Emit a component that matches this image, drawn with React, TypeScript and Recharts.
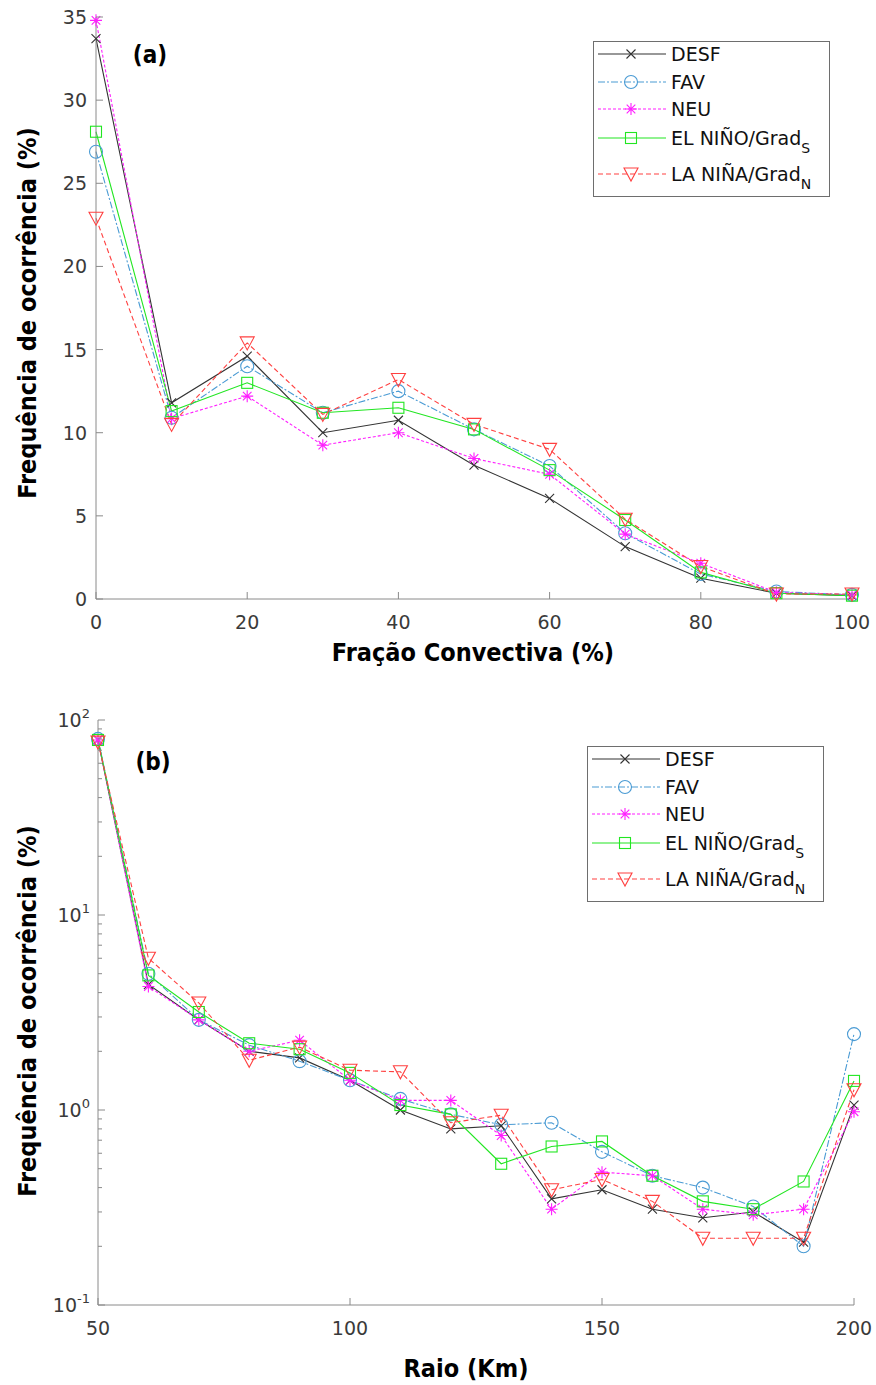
import React from "react";
import { LineChart, Line, XAxis, YAxis, Legend } from "recharts";

// (a) Fração convectiva
const fracao = [0, 10, 20, 30, 40, 50, 60, 70, 80, 90, 100];
const fracDESF = [33.7, 11.8, 14.6, 10.0, 10.75, 8.05, 6.05, 3.15, 1.25, 0.35, 0.2];
const fracFAV = [26.9, 10.9, 14.0, 11.2, 12.5, 10.2, 8.0, 3.95, 1.5, 0.45, 0.25];
const fracNEU = [34.8, 10.85, 12.2, 9.25, 10.0, 8.45, 7.5, 3.9, 2.15, 0.4, 0.25];
const fracNINO = [28.1, 11.3, 13.0, 11.2, 11.5, 10.2, 7.75, 4.75, 1.6, 0.35, 0.2];
const fracNINA = [22.9, 10.5, 15.4, 11.1, 13.2, 10.5, 9.0, 4.8, 1.95, 0.3, 0.3];
const fracXTicks = [0, 20, 40, 60, 80, 100];
const fracYTicks = [0, 5, 10, 15, 20, 25, 30, 35];

// (b) Raio
const raio = [50, 60, 70, 80, 90, 100, 110, 120, 130, 140, 150, 160, 170, 180, 190, 200];
const raioDESF = [79, 4.4, 2.9, 2.0, 1.85, 1.42, 1.0, 0.8, 0.83, 0.35, 0.39, 0.31, 0.28, 0.3, 0.21, 1.06];
const raioFAV = [80, 5.0, 2.9, 2.15, 1.78, 1.42, 1.14, 0.95, 0.84, 0.86, 0.61, 0.46, 0.4, 0.32, 0.2, 2.45];
const raioNEU = [79, 4.3, 2.9, 2.0, 2.28, 1.42, 1.12, 1.12, 0.74, 0.31, 0.48, 0.46, 0.31, 0.29, 0.31, 0.98];
const raioNINO = [79, 4.9, 3.18, 2.2, 2.05, 1.55, 1.06, 0.95, 0.53, 0.65, 0.69, 0.46, 0.34, 0.31, 0.43, 1.41];
const raioNINA = [77, 6.0, 3.54, 1.8, 2.1, 1.6, 1.57, 0.86, 0.94, 0.39, 0.44, 0.34, 0.22, 0.22, 0.22, 1.27];
const raioXTicks = [50, 100, 150, 200];
const raioYTicks = [
  0.1, 0.2, 0.3, 0.4, 0.5, 0.6, 0.7, 0.8, 0.9,
  1, 2, 3, 4, 5, 6, 7, 8, 9,
  10, 20, 30, 40, 50, 60, 70, 80, 90, 100,
];

type Shape = "x" | "o" | "*" | "s" | "v";

const series: { key: string; label: string; sub: string; color: string; dash?: string; shape: Shape }[] = [
  { key: "desf", label: "DESF", sub: "", color: "#333333", shape: "x" },
  { key: "fav", label: "FAV", sub: "", color: "#4a9bd4", dash: "7 2 2 2", shape: "o" },
  { key: "neu", label: "NEU", sub: "", color: "#ff1fff", dash: "3 2", shape: "*" },
  { key: "nino", label: "EL NIÑO/Grad", sub: "S", color: "#22e622", shape: "s" },
  { key: "nina", label: "LA NIÑA/Grad", sub: "N", color: "#ff4040", dash: "5 3", shape: "v" },
];

const fracData = fracao.map((x, i) => ({
  x,
  desf: fracDESF[i],
  fav: fracFAV[i],
  neu: fracNEU[i],
  nino: fracNINO[i],
  nina: fracNINA[i],
}));

const raioData = raio.map((x, i) => ({
  x,
  desf: raioDESF[i],
  fav: raioFAV[i],
  neu: raioNEU[i],
  nino: raioNINO[i],
  nina: raioNINA[i],
}));

const AXIS = "#8a8a8a";
const TICK_TXT = "#3a3a3a";
const TICK_FONT = "'DejaVu Sans', sans-serif";
const TITLE_FONT = "'DejaVu Sans Condensed', 'DejaVu Sans', sans-serif";

function Marker({ shape, cx, cy, color }: { shape: Shape; cx: number; cy: number; color: string }) {
  const p = { stroke: color, strokeWidth: 1.1, fill: "none" };
  if (cx == null || cy == null) return null;
  switch (shape) {
    case "x":
      return <path {...p} d={`M${cx - 4.5},${cy - 4.5}L${cx + 4.5},${cy + 4.5}M${cx - 4.5},${cy + 4.5}L${cx + 4.5},${cy - 4.5}`} />;
    case "o":
      return <circle {...p} cx={cx} cy={cy} r={6.5} />;
    case "*":
      return (
        <path
          {...p}
          d={`M${cx - 6},${cy}L${cx + 6},${cy}M${cx},${cy - 6}L${cx},${cy + 6}M${cx - 4.3},${cy - 4.3}L${cx + 4.3},${cy + 4.3}M${cx - 4.3},${cy + 4.3}L${cx + 4.3},${cy - 4.3}`}
        />
      );
    case "s":
      return <rect {...p} x={cx - 5.5} y={cy - 5.5} width={11} height={11} />;
    case "v":
      return <polygon {...p} points={`${cx - 7},${cy - 6} ${cx + 7},${cy - 6} ${cx},${cy + 7}`} />;
  }
  return null;
}

// ticks drawn inward, MATLAB style
function AxisTick(props: any) {
  const { x, y, payload, side, log } = props;
  const v = payload.value as number;
  const e = Math.log10(v);
  const major = !log || Math.abs(e - Math.round(e)) < 1e-6;
  const len = major ? 7 : 4;
  const textProps = { fill: TICK_TXT, fontSize: 19, fontFamily: TICK_FONT };
  if (side === "left") {
    return (
      <g>
        <line x1={x} x2={x + len} y1={y} y2={y} stroke={AXIS} />
        {major &&
          (log ? (
            <text {...textProps} x={x - 8} y={y + 7} textAnchor="end">
              10<tspan dy={-9} fontSize={13}>{Math.round(e)}</tspan>
            </text>
          ) : (
            <text {...textProps} x={x - 9} y={y + 7} textAnchor="end">
              {v}
            </text>
          ))}
      </g>
    );
  }
  if (side === "right") {
    return <line x1={x} x2={x - len} y1={y} y2={y} stroke={AXIS} />;
  }
  if (side === "top") {
    return <line x1={x} x2={x} y1={y} y2={y + len} stroke={AXIS} />;
  }
  return (
    <g>
      <line x1={x} x2={x} y1={y} y2={y - len} stroke={AXIS} />
      <text {...textProps} x={x} y={y + 30} textAnchor="middle">
        {v}
      </text>
    </g>
  );
}

function LegendBox({ w, h }: { w: number; h: number }) {
  const rows = [13, 41, 68, 97, 133];
  return (
    <svg width={w} height={h} style={{ display: "block" }}>
      <rect x={0.5} y={0.5} width={w - 1} height={h - 1} fill="#fff" stroke="#6e6e6e" />
      {series.map((s, i) => (
        <g key={s.key}>
          <line x1={5} x2={73} y1={rows[i]} y2={rows[i]} stroke={s.color} strokeDasharray={s.dash} strokeWidth={1.1} />
          <Marker shape={s.shape} cx={38} cy={rows[i]} color={s.color} />
          <text x={78} y={rows[i] + 7} fontSize={19} fontFamily={TICK_FONT} fill="#111">
            {s.label}
            {s.sub && (
              <tspan dy={8} fontSize={14}>
                {s.sub}
              </tspan>
            )}
          </text>
        </g>
      ))}
    </svg>
  );
}

function Title({ text, cx, cy, rotate, size = 25 }: { text: string; cx: number; cy: number; rotate?: boolean; size?: number }) {
  return (
    <div
      style={{
        position: "absolute",
        left: cx,
        top: cy,
        transform: `translate(-50%, -50%)${rotate ? " rotate(-90deg)" : ""}`,
        whiteSpace: "nowrap",
        fontFamily: TITLE_FONT,
        fontWeight: 700,
        fontSize: size,
        color: "#000",
        lineHeight: 1,
      }}
    >
      {text}
    </div>
  );
}

function renderLines() {
  return series.map((s) => (
    <Line
      key={s.key}
      xAxisId="b"
      yAxisId="l"
      type="linear"
      dataKey={s.key}
      stroke={s.color}
      strokeWidth={1.1}
      strokeDasharray={s.dash}
      activeDot={false}
      isAnimationActive={false}
      dot={(p: any) => <Marker key={`${s.key}-${p.index}`} shape={s.shape} cx={p.cx} cy={p.cy} color={s.color} />}
    />
  ));
}

export default function App() {
  return (
    <div style={{ position: "absolute", left: 0, top: 0, width: 876, height: 1385, background: "#fff" }}>
      {/* (a) */}
      <div style={{ position: "absolute", left: 0, top: 0 }}>
        <LineChart width={876} height={690} data={fracData} margin={{ top: 17, right: 24, bottom: 0, left: 0 }}>
          <XAxis xAxisId="b" dataKey="x" type="number" domain={[0, 100]} ticks={fracXTicks} interval={0}
            height={91} axisLine={{ stroke: AXIS }} tickLine={false} tickSize={0} tickMargin={0}
            tick={(p: any) => <AxisTick {...p} side="bottom" />} />
          <XAxis xAxisId="t" orientation="top" dataKey="x" type="number" domain={[0, 100]} ticks={fracXTicks} interval={0}
            height={0} axisLine={{ stroke: AXIS }} tickLine={false} tickSize={0} tickMargin={0}
            tick={(p: any) => <AxisTick {...p} side="top" />} />
          <YAxis yAxisId="l" type="number" domain={[0, 35]} ticks={fracYTicks} interval={0} width={96}
            axisLine={{ stroke: AXIS }} tickLine={false} tickSize={0} tickMargin={0}
            tick={(p: any) => <AxisTick {...p} side="left" />} />
          <YAxis yAxisId="r" orientation="right" type="number" domain={[0, 35]} ticks={fracYTicks} interval={0} width={0}
            axisLine={{ stroke: AXIS }} tickLine={false} tickSize={0} tickMargin={0}
            tick={(p: any) => <AxisTick {...p} side="right" />} />
          {renderLines()}
          <Legend layout="vertical" align="center" verticalAlign="middle"
            wrapperStyle={{ left: 593, top: 41, width: 237, height: 156 }}
            content={() => <LegendBox w={237} h={156} />} />
        </LineChart>
        <Title text="(a)" cx={150} cy={55} size={24} />
        <Title text="Frequência de ocorrência (%)" cx={27} cy={313} rotate />
        <Title text="Fração Convectiva (%)" cx={473} cy={652} />
      </div>

      {/* (b) */}
      <div style={{ position: "absolute", left: 0, top: 690 }}>
        <LineChart width={876} height={695} data={raioData} margin={{ top: 30, right: 22, bottom: 0, left: 0 }}>
          <XAxis xAxisId="b" dataKey="x" type="number" domain={[50, 200]} ticks={raioXTicks} interval={0}
            height={80} axisLine={{ stroke: AXIS }} tickLine={false} tickSize={0} tickMargin={0}
            tick={(p: any) => <AxisTick {...p} side="bottom" />} />
          <XAxis xAxisId="t" orientation="top" dataKey="x" type="number" domain={[50, 200]} ticks={raioXTicks} interval={0}
            height={0} axisLine={{ stroke: AXIS }} tickLine={false} tickSize={0} tickMargin={0}
            tick={(p: any) => <AxisTick {...p} side="top" />} />
          <YAxis yAxisId="l" type="number" scale="log" domain={[0.1, 100]} allowDataOverflow ticks={raioYTicks} interval={0} width={98}
            axisLine={{ stroke: AXIS }} tickLine={false} tickSize={0} tickMargin={0}
            tick={(p: any) => <AxisTick {...p} side="left" log />} />
          <YAxis yAxisId="r" orientation="right" type="number" scale="log" domain={[0.1, 100]} allowDataOverflow ticks={raioYTicks} interval={0} width={0}
            axisLine={{ stroke: AXIS }} tickLine={false} tickSize={0} tickMargin={0}
            tick={(p: any) => <AxisTick {...p} side="right" log />} />
          {renderLines()}
          <Legend layout="vertical" align="center" verticalAlign="middle"
            wrapperStyle={{ left: 587, top: 56, width: 237, height: 156 }}
            content={() => <LegendBox w={237} h={156} />} />
        </LineChart>
        <Title text="(b)" cx={153} cy={72} size={24} />
        <Title text="Frequência de ocorrência (%)" cx={27} cy={321} rotate />
        <Title text="Raio (Km)" cx={466} cy={678} />
      </div>
    </div>
  );
}
